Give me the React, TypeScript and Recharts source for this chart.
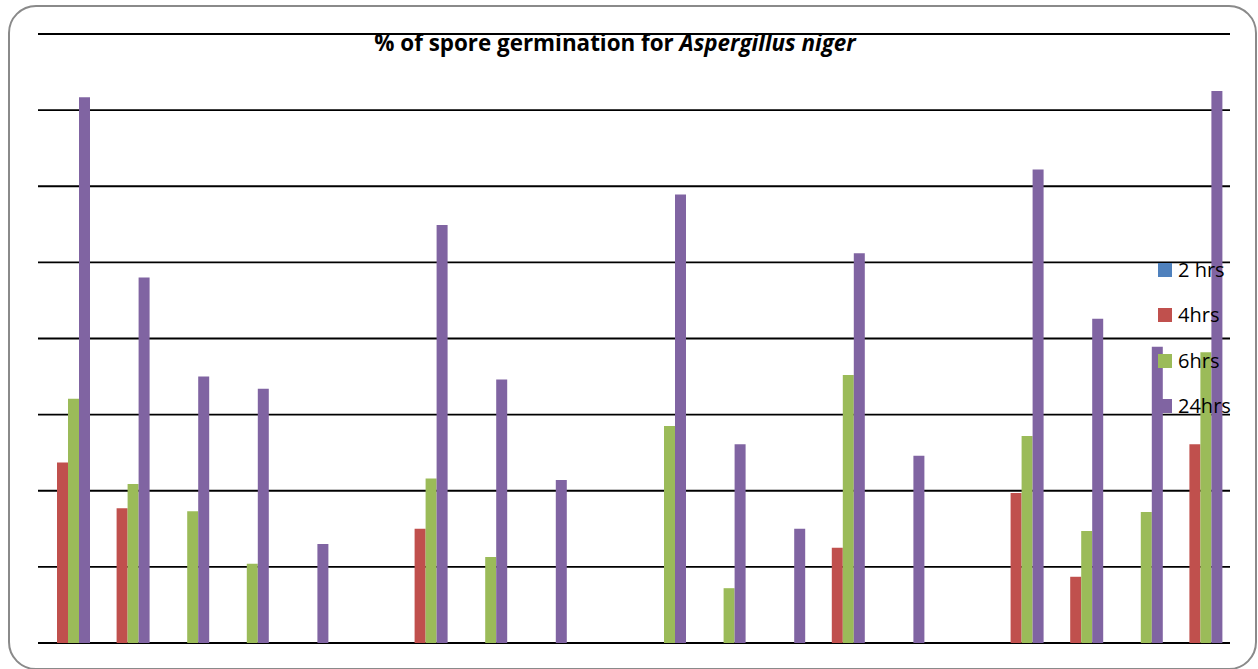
import React from 'react';
import { BarChart, Bar, XAxis, YAxis, CartesianGrid } from 'recharts';

const categories = ['T1', 'T2', 'T3', 'T4', 'T5', 'T6', 'T7', 'T8', 'T9', 'T10', 'T11', 'T12', 'T13', 'T14', 'T15', 'T16', 'T17', 'T18', 'T19', 'T20'];
const hrs2 = [0, 0, 0, 0, 0, 0, 0, 0, 0, 0, 0, 0, 0, 0, 0, 0, 0, 0, 0, 0];
const hrs4 = [23.7, 17.7, 0, 0, 0, 0, 15.0, 0, 0, 0, 0, 0, 0, 12.5, 0, 0, 19.7, 8.7, 0, 26.1];
const hrs6 = [32.1, 20.9, 17.3, 10.4, 0, 0, 21.6, 11.3, 0, 0, 28.5, 7.2, 0, 35.2, 0, 0, 27.2, 14.7, 17.2, 38.2];
const hrs24 = [71.7, 48.0, 35.0, 33.4, 13.0, 0, 54.9, 34.6, 21.4, 0, 58.9, 26.1, 15.0, 51.2, 24.6, 0, 62.2, 42.6, 38.9, 72.5];
const yTicks = [0, 10, 20, 30, 40, 50, 60, 70, 80];

const seriesNames = ['2 hrs', '4hrs', '6hrs', '24hrs'];
const seriesColors = ['#4F81BD', '#C0504D', '#9BBB59', '#8064A2'];

const data = categories.map((c, i) => ({
  name: c,
  h2: hrs2[i],
  h4: hrs4[i],
  h6: hrs6[i],
  h24: hrs24[i],
}));

const LegendBox = () => (
  <div
    style={{
      position: 'absolute',
      left: 1158,
      top: 247,
      width: 100,
      fontFamily: '"Open Sans", sans-serif',
      fontSize: 20,
      color: '#000',
    }}
  >
    {seriesNames.map((n, i) => (
      <div key={n} style={{ display: 'flex', alignItems: 'center', height: 45.5 }}>
        <div style={{ width: 14, height: 14, background: seriesColors[i], marginRight: 6, flex: 'none' }} />
        <span style={{ lineHeight: '20px', whiteSpace: 'nowrap' }}>{n}</span>
      </div>
    ))}
  </div>
);

export default function App() {
  return (
    <div style={{ position: 'absolute', left: 0, top: 0, width: 1258, height: 669, background: '#fff', overflow: 'hidden' }}>
      <div
        style={{
          position: 'absolute',
          left: 8,
          top: 5,
          width: 1249,
          height: 665,
          boxSizing: 'border-box',
          border: '2px solid #8a8a8a',
          borderRadius: 28,
        }}
      />
      <div style={{ position: 'absolute', left: 0, top: 0 }}>
        <BarChart
          width={1258}
          height={669}
          data={data}
          margin={{ top: 34, right: 28, bottom: 26, left: 38 }}
          barGap={0}
          barSize={11}
        >
          <CartesianGrid horizontal vertical={false} stroke="#000" strokeWidth={1.8} />
          <XAxis dataKey="name" hide />
          <YAxis domain={[0, 80]} ticks={yTicks} hide />
          <Bar dataKey="h2" name={seriesNames[0]} fill={seriesColors[0]} isAnimationActive={false} />
          <Bar dataKey="h4" name={seriesNames[1]} fill={seriesColors[1]} isAnimationActive={false} />
          <Bar dataKey="h6" name={seriesNames[2]} fill={seriesColors[2]} isAnimationActive={false} />
          <Bar dataKey="h24" name={seriesNames[3]} fill={seriesColors[3]} isAnimationActive={false} />
        </BarChart>
      </div>
      <LegendBox />
      <div
        style={{
          position: 'absolute',
          left: 0,
          top: 32,
          width: 1230,
          textAlign: 'center',
          fontFamily: '"Open Sans", sans-serif',
          fontWeight: 700,
          fontSize: 22.4,
          lineHeight: '22px',
          color: '#000',
        }}
      >
        % of spore germination for <i>Aspergillus niger</i>
      </div>
    </div>
  );
}
